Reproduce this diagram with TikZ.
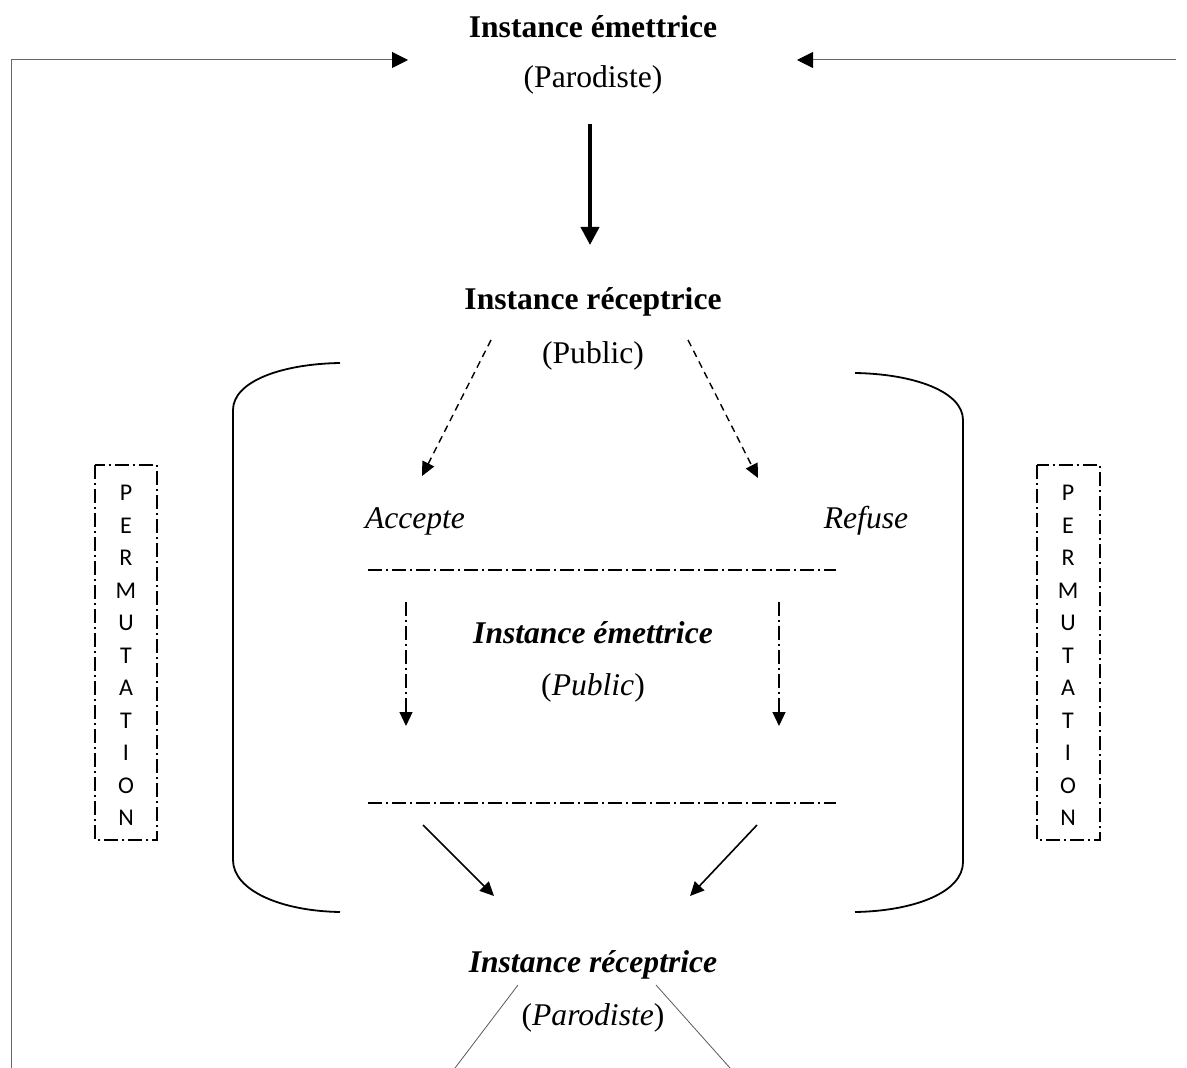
\documentclass[tikz,border=0pt]{standalone}
\usepackage{fontspec}
\setmainfont{Liberation Serif}
\newfontfamily\permfont{Carlito}
\usetikzlibrary{arrows.meta}
\begin{document}
\begin{tikzpicture}[x=0.5pt,y=-0.5pt,
  every node/.style={font=\fontsize{15.8}{18}\selectfont,inner sep=0pt},
  tri/.style={-{Triangle[length=8pt,width=8pt,color=black]}},
  smalltri/.style={-{Triangle[length=7pt,width=6.5pt]}},
  dashdot/.style={line width=0.6pt,dash pattern=on 7pt off 2pt on 1pt off 2pt},
  letter/.style={font=\permfont\fontsize{12}{14}\selectfont}]
\useasboundingbox (0,0) rectangle (1187,1068);
% texts
\node (em1) at (593,27) {\textbf{Instance émettrice}};
\node (par1) at (593,80) {(Parodiste)};
\node (rec1) at (593,302) {\textbf{Instance réceptrice}};
\node (pub1) at (593,356) {(Public)};
\node (acc) at (415,521) {\textit{Accepte}};
\node (ref) at (866,521) {\textit{Refuse}};
\node (em2) at (593,633) {\textbf{\textit{Instance émettrice}}};
\node (pub2) at (593,688) {(\textit{Public})};
\node (rec2) at (593,965) {\textbf{\textit{Instance réceptrice}}};
\node (par2) at (593,1018) {(\textit{Parodiste})};
% free ends
\coordinate (c0) at (11,1068);
\coordinate (c1) at (11,60);
\coordinate (c2) at (408,60);
\coordinate (c3) at (1176,60);
\coordinate (c4) at (797,60);
\coordinate (t1) at (590,124);
\coordinate (t2) at (590,245);
\coordinate (d1) at (491,340);
\coordinate (d2) at (422,476);
\coordinate (d3) at (688,340);
\coordinate (d4) at (758,478);
\coordinate (e1) at (406,602);
\coordinate (e2) at (406,726);
\coordinate (e3) at (779,602);
\coordinate (e4) at (779,726);
\coordinate (s1) at (423,825);
\coordinate (s2) at (494,896);
\coordinate (s3) at (757,825);
\coordinate (s4) at (690,896);
\coordinate (h1) at (368,570);
\coordinate (h2) at (836,570);
\coordinate (h3) at (368,803);
\coordinate (h4) at (836,803);
\coordinate (b1) at (518,985);
\coordinate (b2) at (455,1068);
\coordinate (b3) at (656,985);
\coordinate (b4) at (730,1068);
% connectors
\draw[gray!80!black,line width=0.5pt,tri] (c0) -- (c1) -- (c2);
\draw[gray!80!black,line width=0.5pt,tri] (c3) -- (c4);
\draw[line width=2pt,-{Triangle[length=9pt,width=9pt]}] (t1) -- (t2);
\draw[line width=0.7pt,dash pattern=on 3.5pt off 2.5pt,smalltri] (d1) -- (d2);
\draw[line width=0.7pt,dash pattern=on 3.5pt off 2.5pt,smalltri] (d3) -- (d4);
\draw[dashdot] (h1) -- (h2);
\draw[dashdot] (h3) -- (h4);
\draw[dashdot,smalltri] (e1) -- (e2);
\draw[dashdot,smalltri] (e3) -- (e4);
\draw[line width=0.8pt,smalltri] (s1) -- (s2);
\draw[line width=0.8pt,smalltri] (s3) -- (s4);
\draw[gray!70!black,line width=0.4pt] (b1) -- (b2);
\draw[gray!70!black,line width=0.4pt] (b3) -- (b4);
% brackets
\draw[line width=0.9pt] (340,363) .. controls (280,364) and (233,382) .. (233,410)
  -- (233,860) .. controls (233,890) and (280,911) .. (340,912);
\draw[line width=0.9pt] (855,373) .. controls (915,374) and (963,392) .. (963,420)
  -- (963,862) .. controls (963,892) and (915,911) .. (855,912);
% permutation boxes
\draw[dashdot] (95,465) rectangle (157,840);
\draw[dashdot] (1037,465) rectangle (1100,840);
\foreach \l [count=\i] in {P,E,R,M,U,T,A,T,I,O,N} {
  \node[letter] (pl\i) at (126,493+32.5*\i-32.5) {\l};
  \node[letter] (pr\i) at (1068,493+32.5*\i-32.5) {\l};
}
\end{tikzpicture}
\end{document}
